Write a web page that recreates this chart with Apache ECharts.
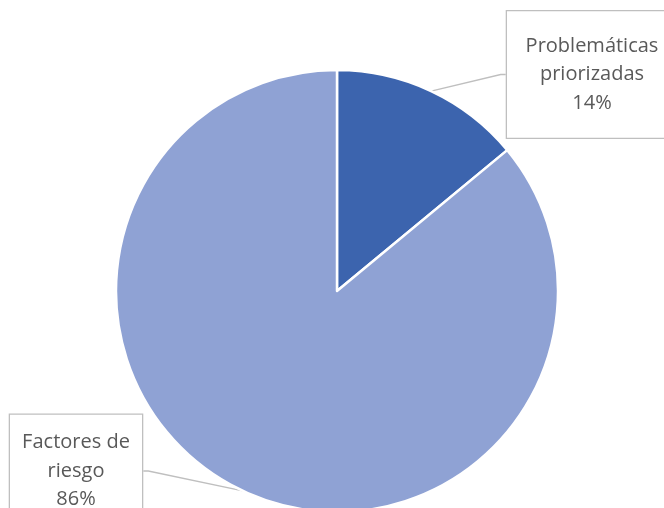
<!DOCTYPE html>
<html>
<head>
<meta charset="utf-8">
<script src="https://cdn.jsdelivr.net/npm/echarts@6/dist/echarts.min.js"></script>
<style>html,body{margin:0;padding:0;background:#fff;}#c{width:664px;height:508px;}</style>
</head>
<body>
<div id="c"></div>
<script>
var categories = ['Problemáticas\npriorizadas', 'Factores de\nriesgo'];
var values = [14, 86];
var colors = ['#3C64AE', '#8FA2D4'];

var labelBoxes = [
  {width: 170, padding: [25, 0, 16, 0], x: 592, y: 74.5},
  {width: 132, padding: [8, 0, 19, 0], x: 76, y: 471}
];

var chart = echarts.init(document.getElementById('c'), null, {renderer: 'canvas'});
var data = categories.map(function (c, i) {
  return {
    name: c, value: values[i], itemStyle: {color: colors[i]},
    label: {width: labelBoxes[i].width, padding: labelBoxes[i].padding}
  };
});
chart.setOption({
  animation: false,
  series: [{
    type: 'pie',
    center: [337, 291],
    radius: 221,
    startAngle: 90,
    clockwise: true,
    data: data,
    itemStyle: {borderColor: '#ffffff', borderWidth: 2.5},
    label: {
      show: true,
      position: 'outside',
      formatter: function (p) { return p.name + '\n' + p.value + '%'; },
      fontFamily: 'Open Sans, Liberation Sans, sans-serif',
      fontSize: 20,
      lineHeight: 28.5,
      color: '#595959',
      align: 'center',
      borderColor: '#BFBFBF',
      borderWidth: 1.3,
      backgroundColor: '#ffffff'
    },
    labelLine: {show: true, lineStyle: {color: '#BFBFBF', width: 1.3}, length: 10, length2: 5},
    labelLayout: function (params) {
      var b = labelBoxes[params.dataIndex];
      return {x: b.x, y: b.y, align: 'center', verticalAlign: 'middle'};
    }
  }]
});
</script>
</body>
</html>
